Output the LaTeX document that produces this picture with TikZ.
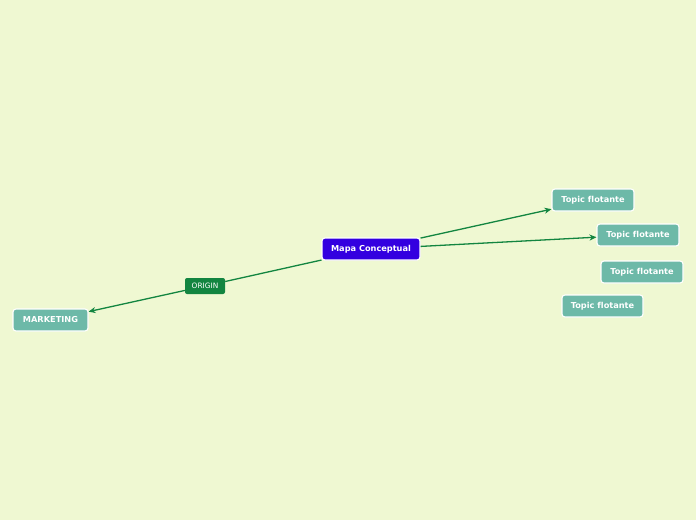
\documentclass[tikz,border=0pt]{standalone}
\usepackage{fontspec}
\setmainfont[Ligatures=NoCommon]{DejaVu Sans}
\usetikzlibrary{arrows.meta}
\definecolor{bg}{HTML}{EFF8D2}
\definecolor{teal}{HTML}{6DB9A8}
\definecolor{mainblue}{HTML}{3300E0}
\definecolor{lgreen}{HTML}{128540}
\tikzset{
  topicbox/.style={draw=white, line width=1.1pt, fill=teal, rounded corners=3pt, text=white,
    font=\fontsize{8.2}{10}\selectfont\bfseries, minimum height=22pt, inner xsep=0pt},
  centralbox/.style={topicbox, fill=mainblue},
  labelbox/.style={fill=lgreen, rounded corners=2pt, text=white, font=\fontsize{7.4}{9}\selectfont,
    minimum width=40pt, minimum height=16pt, inner sep=0pt},
  conn/.style={draw=lgreen, line width=1.3pt, -{Stealth[length=7pt,width=6pt]}},
  plain/.style={draw=lgreen, line width=1.3pt}
}
\begin{document}
\begin{tikzpicture}[x=1pt,y=-1pt]
\fill[bg] (0,0) rectangle (696,520);
\useasboundingbox (0,0) rectangle (696,520);
\node[centralbox, minimum width=98pt] (mapa) at (371,249) {Mapa Conceptual};
\node[topicbox, minimum width=82pt] (t1) at (593,200) {Topic flotante};
\node[topicbox, minimum width=82pt] (t2) at (638,235) {Topic flotante};
\node[topicbox, minimum width=82pt] (t3) at (642,272) {Topic flotante};
\node[topicbox, minimum width=81pt] (t4) at (602.5,306) {Topic flotante};
\node[topicbox, minimum width=75pt] (mk) at (50.5,320) {MARKETING};
\node[labelbox] (orig) at (205,286) {ORIGIN};
\draw[conn] (mapa) -- (t1);
\draw[conn] (mapa) -- (t2);
\draw[plain] (mapa) -- (orig);
\draw[conn] (orig) -- (mk);
\end{tikzpicture}
\end{document}
